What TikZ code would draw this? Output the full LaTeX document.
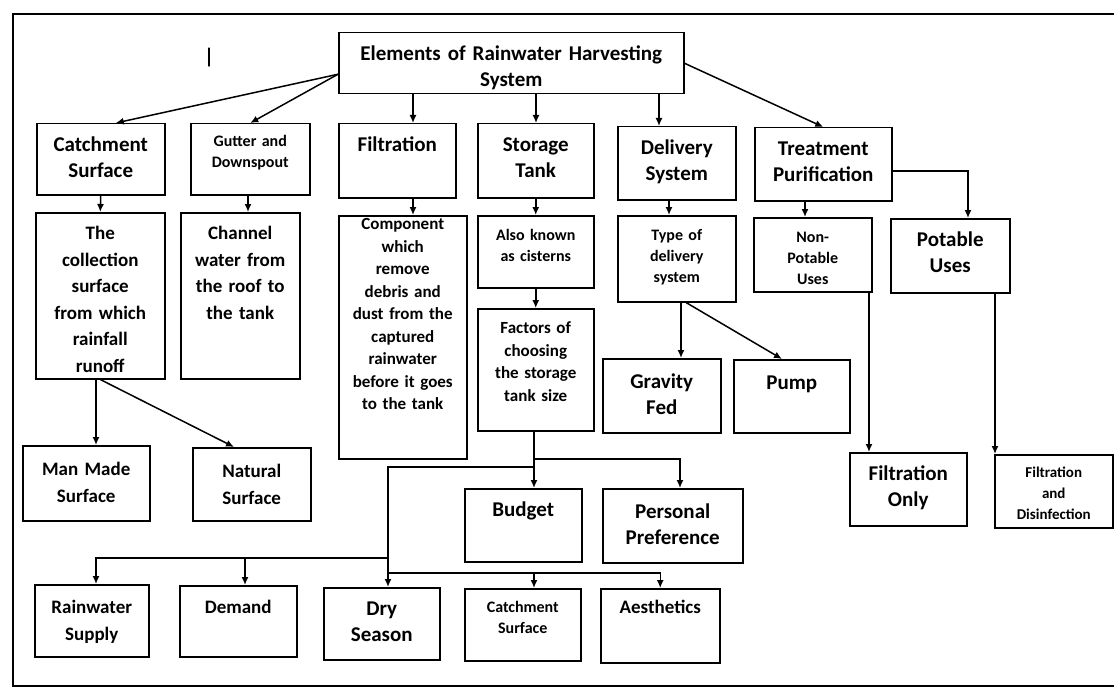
\documentclass[tikz,border=0pt]{standalone}
\usepackage{fontspec}
\setmainfont{Carlito}
\usepackage{tikz}
\usetikzlibrary{arrows.meta}

\begin{document}
\begin{tikzpicture}[x=1pt,y=-1pt,>={Latex[length=8pt,width=7pt]},
  blk/.style={draw,line width=1.5pt,align=center,inner sep=0pt,anchor=north west},
  fA/.style={font=\fontsize{21}{26}\selectfont\bfseries},
  fB/.style={font=\fontsize{19}{26.5}\selectfont\bfseries},
  fC/.style={font=\fontsize{17}{22.5}\selectfont\bfseries},
  fD/.style={font=\fontsize{16}{21}\selectfont\bfseries},
  fE/.style={font=\fontsize{15}{21}\selectfont\bfseries},
  con/.style={line width=1.5pt,->}]
\useasboundingbox (0,0) rectangle (1114,690);
%Рамка
\draw[line width=1.3pt] (1114,14) -- (13,14) -- (13,686) -- (1114,686);
\node[fA] (mark) at (209,58) {|};
%Верхний блок
\node[blk,fA,text width=345pt,text height=28pt,text depth=33pt] (top) at (338,32) {Elements of Rainwater Harvesting\\System};
%Первый ряд
\node[blk,fA,text width=128pt,text height=28pt,text depth=43pt] (catch) at (36,123) {Catchment\\Surface};
\node[blk,fD,text width=119pt,text height=23pt,text depth=48pt] (gutter) at (190,123) {Gutter and\\Downspout};
\node[blk,fA,text width=117pt,text height=28pt,text depth=46pt] (filt) at (338,123) {Filtration};
\node[blk,fA,text width=116pt,text height=28pt,text depth=46pt] (stor) at (477,123) {Storage\\Tank};
\node[blk,fA,text width=118pt,text height=28pt,text depth=45pt] (deliv) at (617,126) {Delivery\\System};
\node[blk,fA,text width=137pt,text height=28pt,text depth=45pt] (treat) at (754,127) {Treatment\\Purification};
%Второй ряд
\node[blk,fB,text width=129pt,text height=27pt,text depth=139pt] (coll) at (35,212) {The\\collection\\surface\\from which\\rainfall\\runoff};
\node[blk,fB,text width=119pt,text height=27pt,text depth=139pt] (chan) at (180,212) {Channel\\water from\\the roof to\\the tank};
\node[blk,fC,text width=128pt,text height=14pt,text depth=229pt] (comp) at (338,215) {Component\\which\\remove\\debris and\\dust from the\\captured\\rainwater\\before it goes\\to the tank};
\node[blk,fD,text width=116pt,text height=25pt,text depth=47pt] (also) at (477,215) {Also known\\as cisterns};
\node[blk,fC,text width=116pt,text height=25pt,text depth=97pt] (fact) at (477,308) {Factors of\\choosing\\the storage\\tank size};
\node[blk,fD,text width=118pt,text height=25pt,text depth=61pt] (type) at (617,215) {Type of\\delivery\\system};
\node[blk,fD,text width=118pt,text height=25pt,text depth=49pt] (nonp) at (753,217) {Non-\\Potable\\Uses};
\node[blk,fA,text width=119pt,text height=28pt,text depth=46pt] (pota) at (890,218) {Potable\\Uses};
%Третий ряд
\node[blk,fB,text width=127pt,text height=30pt,text depth=45pt] (man) at (22,445) {Man Made\\Surface};
\node[blk,fB,text width=118pt,text height=30pt,text depth=43pt] (nat) at (192,447) {Natural\\Surface};
\node[blk,fA,text width=118pt,text height=30pt,text depth=44pt] (grav) at (602,358) {Gravity\\Fed};
\node[blk,fA,text width=116pt,text height=30pt,text depth=43pt] (pump) at (733,359) {Pump};
\node[blk,fA,text width=117pt,text height=28pt,text depth=45pt] (fonly) at (849,452) {Filtration\\Only};
\node[blk,fE,text width=118pt,text height=23pt,text depth=50pt] (fdis) at (994,454) {Filtration\\and\\Disinfection};
\node[blk,fA,text width=117pt,text height=28pt,text depth=45pt] (budg) at (464,488) {Budget};
\node[blk,fA,text width=140pt,text height=30pt,text depth=44pt] (pref) at (602,488) {Personal\\Preference};
%Нижний ряд
\node[blk,fB,text width=114pt,text height=29pt,text depth=43pt] (rain) at (34,584) {Rainwater\\Supply};
\node[blk,fB,text width=117pt,text height=28pt,text depth=43pt] (dem) at (179,585) {Demand};
\node[blk,fA,text width=116pt,text height=28pt,text depth=44pt] (dry) at (323,587) {Dry\\Season};
\node[blk,fD,text width=116pt,text height=24pt,text depth=48pt] (csur) at (464,588) {Catchment\\Surface};
\node[blk,fB,text width=119pt,text height=25pt,text depth=49pt] (aest) at (600,588) {Aesthetics};
%Стрелки от верхнего блока
\draw[con] ([yshift=-11pt]top.west) -- ([xshift=15pt]catch.north);
\draw[con] ([yshift=-11pt]top.west) -- (gutter.north);
\draw[con] (top.south -| 413,0) -- (filt.north -| 413,0);
\draw[con] (top.south -| 536,0) -- (stor.north -| 536,0);
\draw[con] (top.south -| 659,0) -- (deliv.north -| 659,0);
\draw[con] (top.east) -- (treat.north);
%Стрелки ко второму ряду
\draw[con] (catch.south) -- (coll.north);
\draw[con] (gutter.south -| 248,0) -- (chan.north -| 248,0);
\draw[con] (filt.south -| 413,0) -- (comp.north -| 413,0);
\draw[con] (stor.south) -- (also.north);
\draw[con] (also.south) -- (fact.north);
\draw[con] (deliv.south -| 669,0) -- (type.north -| 669,0);
\draw[con] (treat.south -| 805,0) -- (nonp.north -| 805,0);
\draw[con] ([yshift=-7pt]treat.east) -| (pota.north -| 968,0);
%Стрелки к третьему ряду
\draw[con] (coll.south -| 96,0) -- (man.north -| 96,0);
\draw[con] (coll.south) -- (nat.north -| 234,0);
\draw[con] (type.south -| 681,0) -- (grav.north -| 681,0);
\draw[con] (type.south -| 686,0) -- (pump.north -| 782,0);
\draw[con] (nonp.south -| 869,0) -- (fonly.north -| 869,0);
\draw[con] (pota.south -| 995,0) -- (fdis.north -| 995,0);
%Ветви от размера бака
\coordinate (j1) at (534,459);
\coordinate (j2) at (534,467);
\coordinate (j3) at (388,558);
\coordinate (j4) at (245,558);
\coordinate (j5) at (388,573);
\coordinate (j6) at (534,573);
\draw[con] (fact.south -| 534,0) -- (budg.north -| 534,0);
\draw[con] (j1) -| (pref.north -| 680,0);
\draw[con] (j2) -| (dry.north -| 388,0);
\draw[con] (j3) -| (rain.north -| 96,0);
\draw[con] (j4) -- (dem.north -| 245,0);
\draw[con] (j5) -| (aest.north);
\draw[con] (j6) -- (csur.north -| 534,0);
\end{tikzpicture}
\end{document}
